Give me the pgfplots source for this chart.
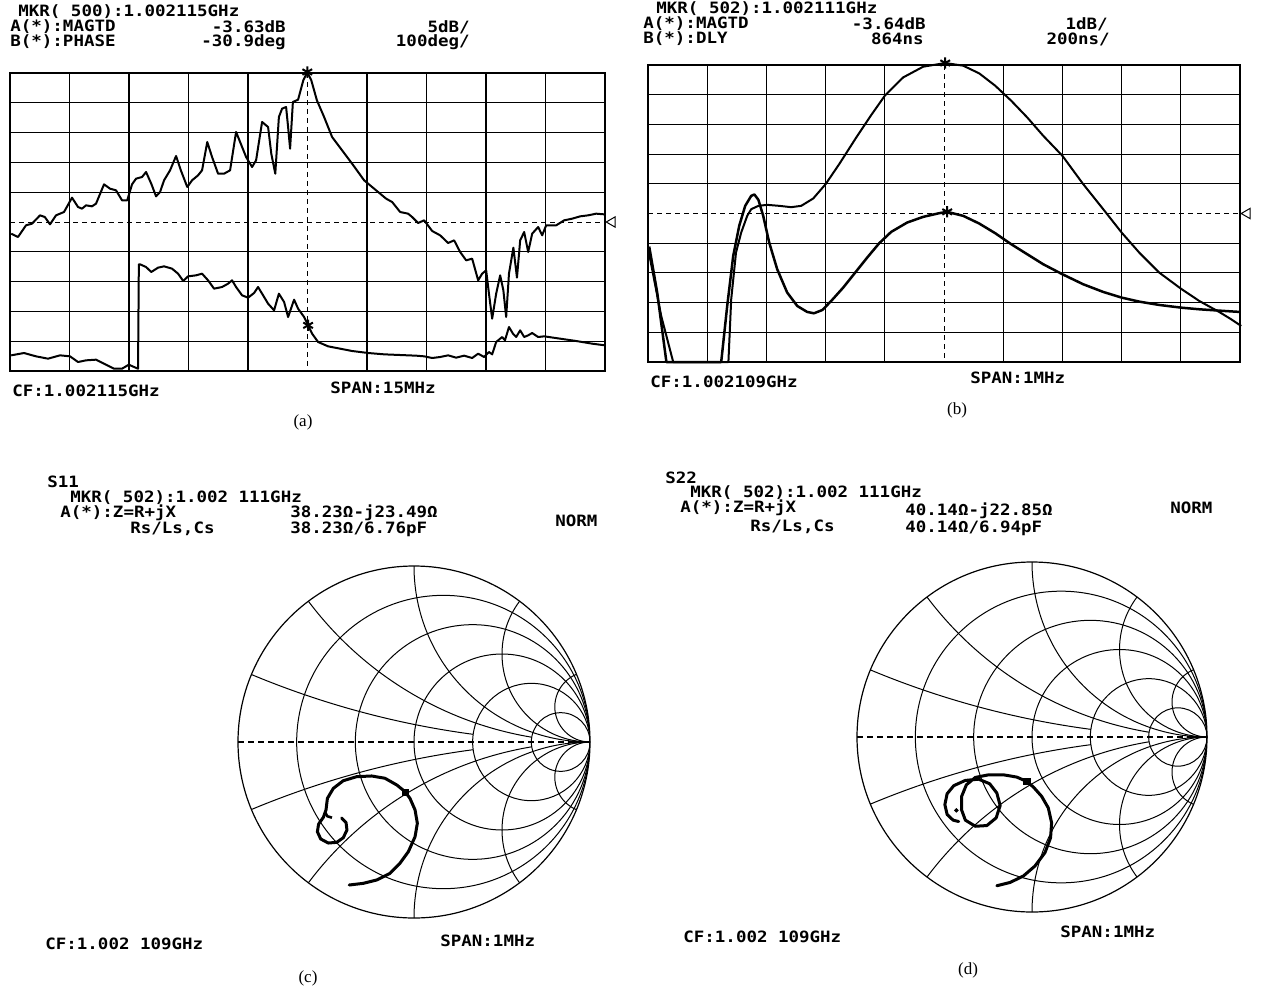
\documentclass[border=0pt]{standalone}
\usepackage{fontspec}
\setmainfont{DejaVu Sans}
\newfontfamily\plotfont{DejaVu Sans Mono}[FakeStretch=1.12]
\newfontfamily\capfont{Liberation Serif}
\usepackage{pgfplots}
\pgfplotsset{compat=1.18}

\pgfplotsset{
  vna/.style={scale only axis, anchor=south west,
    xticklabels={}, yticklabels={}, major tick length=0pt,
    grid=major, major grid style={black, line width=0.55pt},
    axis line style={black, line width=0.65pt},
    y dir=reverse, clip=false},
  smith/.style={scale only axis, anchor=south west, xmin=-1, xmax=1, ymin=-1, ymax=1,
    axis lines=none, clip=false},
  trace/.style={black, line width=1pt, mark=none, line join=round},
}
\tikzset{
  lab/.style={inner sep=0pt, font=\plotfont\bfseries\fontsize{7.8}{9}\selectfont},
  captxt/.style={inner sep=0pt, font=\capfont\fontsize{8.5}{10}\selectfont},
  sg/.style={black, line width=0.5pt},
  dsh/.style={black, line width=0.45pt, dash pattern=on 2.5pt off 2pt},
}

\newcommand{\smithgrid}{%
 \begin{scope}
  \clip (axis cs:0,0) circle[radius=1];
  \draw[sg] (axis cs:0.16667,0) circle[radius=0.83333];
  \draw[sg] (axis cs:0.33333,0) circle[radius=0.66667];
  \draw[sg] (axis cs:0.5,0) circle[radius=0.5];
  \draw[sg] (axis cs:0.66667,0) circle[radius=0.33333];
  \draw[sg] (axis cs:0.83333,0) circle[radius=0.16667];
  \draw[sg] (axis cs:1,1) circle[radius=1];
  \draw[sg] (axis cs:1,-1) circle[radius=1];
  \draw[sg] (axis cs:1,0.5) circle[radius=0.5];
  \draw[sg] (axis cs:1,-0.5) circle[radius=0.5];
  \draw[sg] (axis cs:1,0.2) circle[radius=0.2];
  \draw[sg] (axis cs:1,-0.2) circle[radius=0.2];
 \end{scope}
 \begin{scope}[even odd rule]
  \clip (axis cs:0,0) circle[radius=1] (axis cs:0.66667,0) circle[radius=0.33333];
  \draw[sg] (axis cs:1,5) circle[radius=5];
  \draw[sg] (axis cs:1,-5) circle[radius=5];
 \end{scope}
 \begin{scope}[even odd rule]
  \clip (axis cs:0,0) circle[radius=1] (axis cs:0.83333,0) circle[radius=0.16667];
  \draw[sg] (axis cs:1,2) circle[radius=2];
  \draw[sg] (axis cs:1,-2) circle[radius=2];
 \end{scope}
 \draw[black, line width=0.6pt] (axis cs:0,0) circle[radius=1];
 \draw[black, line width=0.6pt, dash pattern=on 3pt off 2pt] (axis cs:-1,0) -- (axis cs:1,0);
}

\begin{document}
\begin{tikzpicture}
\useasboundingbox (0pt,0pt) rectangle (631pt,496.5pt);

% ================= (a) =================
\begin{axis}[vna, at={(5pt,311pt)}, width=297.5pt, height=149pt,
  xmin=25, xmax=1512, ymin=38, ymax=932,
  xtick={25,173.7,322.4,471.1,619.8,917.2,1065.9,1214.6,1363.3,1512},
  ytick={38,127.4,216.8,306.2,395.6,574.4,663.8,753.2,842.6,932}]
\draw[dsh] (axis cs:768.5,38) -- (axis cs:768.5,932);
\draw[dsh] (axis cs:25,485) -- (axis cs:1512,485);
\addplot[trace] coordinates {(28,520)(45,530)(65,495)(80,490)(100,465)(112,470)(125,492)(140,465)(160,455)(180,412)(195,440)(205,445)(215,435)(230,438)(240,430)(260,372)(275,385)(290,390)(305,420)(318,420)(330,372)(340,355)(355,350)(365,335)(378,370)(390,408)(400,395)(410,360)(425,330)(440,287)(452,330)(468,380)(480,360)(495,345)(505,330)(518,245)(530,290)(545,340)(560,340)(575,330)(590,215)(605,260)(615,290)(630,320)(640,300)(655,185)(670,200)(678,280)(688,340)(697,170)(705,145)(715,140)(720,200)(725,265)(732,125)(745,118)(758,60)(768,35)(778,60)(792,120)(810,170)(830,230)(855,270)(880,310)(910,360)(940,390)(965,415)(980,425)(1000,455)(1020,460)(1030,470)(1045,488)(1060,480)(1080,512)(1100,525)(1120,548)(1135,540)(1150,575)(1165,600)(1180,595)(1195,660)(1205,640)(1215,630)(1222,700)(1230,775)(1240,700)(1250,645)(1258,690)(1265,770)(1272,640)(1283,562)(1292,652)(1300,540)(1310,515)(1320,575)(1330,520)(1345,500)(1355,525)(1365,495)(1390,495)(1410,480)(1430,475)(1450,468)(1470,465)(1490,460)(1510,462)};
\addplot[trace] coordinates {(28,885)(60,878)(90,888)(120,895)(150,885)(175,888)(195,905)(215,900)(240,898)(260,910)(285,925)(305,925)(322,913)(335,920)(345,925)(347,612)(350,612)(365,620)(378,635)(395,622)(410,618)(430,625)(445,640)(458,662)(470,648)(490,645)(505,640)(520,660)(535,685)(555,680)(570,670)(580,660)(590,680)(605,705)(620,712)(635,698)(645,680)(660,710)(670,730)(685,750)(697,700)(710,725)(720,770)(735,718)(745,745)(760,770)(768,790)(780,820)(795,845)(820,858)(850,865)(880,872)(920,878)(960,882)(1000,884)(1040,886)(1060,888)(1080,893)(1100,890)(1120,885)(1140,892)(1160,886)(1180,893)(1195,880)(1210,890)(1222,875)(1230,882)(1240,845)(1255,830)(1262,840)(1272,800)(1282,820)(1290,830)(1300,810)(1310,830)(1320,825)(1330,818)(1345,830)(1360,828)(1400,835)(1440,842)(1480,850)(1512,855)};
\addplot[only marks, mark=asterisk, mark size=2.8pt, mark options={line width=1pt}] coordinates {(768,35)(770,795)};
\addplot[only marks, mark=triangle, mark size=3pt, mark options={rotate=90, line width=0.5pt}] coordinates {(1530,485)};
\end{axis}

% ================= (b) =================
\begin{axis}[vna, at={(324pt,315.5pt)}, width=296pt, height=148.5pt,
  xmin=42, xmax=1522, ymin=78, ymax=968,
  xtick={42,190,338,486,634,930,1078,1226,1374,1522},
  ytick={78,167,256,345,434,612,701,790,879,968}]
\draw[dsh] (axis cs:782,78) -- (axis cs:782,968);
\draw[dsh] (axis cs:42,523) -- (axis cs:1522,523);
\addplot[trace, line width=1pt] coordinates {(45,645)(75,830)(105,968)(243,968)(250,780)(262,640)(275,580)(290,530)(300,510)(318,500)(340,497)(370,500)(400,504)(425,500)(455,478)(486,435)(520,375)(560,300)(600,228)(634,170)(680,115)(730,83)(785,72)(830,80)(870,103)(910,140)(950,185)(990,235)(1030,290)(1078,350)(1130,435)(1180,510)(1226,580)(1270,640)(1320,700)(1374,748)(1420,785)(1470,818)(1500,840)(1525,860)};
\addplot[trace, line width=1.25pt] coordinates {(45,622)(65,760)(88,968)(225,968)(240,800)(255,650)(270,560)(285,500)(300,470)(308,466)(318,482)(330,530)(345,610)(365,690)(390,760)(415,800)(440,818)(457,822)(478,812)(500,785)(530,745)(560,700)(590,655)(620,612)(650,578)(690,550)(730,533)(770,522)(790,518)(830,530)(870,553)(910,582)(950,615)(990,645)(1030,675)(1078,705)(1130,735)(1180,758)(1226,775)(1270,787)(1320,797)(1374,805)(1420,810)(1470,814)(1522,818)};
\addplot[only marks, mark=asterisk, mark size=2.8pt, mark options={line width=1pt}] coordinates {(785,72)(790,518)};
\addplot[only marks, mark=triangle, mark size=3pt, mark options={rotate=90, line width=0.5pt}] coordinates {(1540,523)};
\end{axis}

% ================= (c) =================
\begin{axis}[smith, at={(119pt,37.5pt)}, width=176pt, height=176pt]
\smithgrid
\addplot[trace, line width=1.5pt, line cap=round] coordinates {(-0.368,-0.8125)(-0.288,-0.803)(-0.212,-0.784)(-0.136,-0.746)(-0.080,-0.689)(-0.032,-0.623)(0.006,-0.538)(0.019,-0.462)(0.006,-0.386)(-0.023,-0.320)(-0.051,-0.282)(-0.098,-0.244)(-0.165,-0.206)(-0.241,-0.193)(-0.326,-0.197)(-0.402,-0.220)(-0.458,-0.263)(-0.492,-0.320)(-0.5,-0.386)(-0.515,-0.428)(-0.542,-0.466)(-0.549,-0.510)(-0.530,-0.551)(-0.487,-0.574)(-0.439,-0.570)(-0.402,-0.544)(-0.381,-0.5)(-0.386,-0.458)(-0.411,-0.432)};
\addplot[trace, line width=1.3pt] coordinates {(-0.505,-0.400)(-0.492,-0.422)(-0.466,-0.430)};
\addplot[only marks, mark=square*, mark size=1.6pt] coordinates {(-0.050,-0.287)};
\end{axis}

% ================= (d) =================
\begin{axis}[smith, at={(428.5pt,40.5pt)}, width=175pt, height=175pt]
\smithgrid
\addplot[trace, line width=1.5pt, line cap=round] coordinates {(-0.201,-0.850)(-0.125,-0.831)(-0.049,-0.794)(0.017,-0.737)(0.074,-0.661)(0.106,-0.576)(0.112,-0.490)(0.093,-0.405)(0.055,-0.339)(0.008,-0.286)(-0.030,-0.254)(-0.087,-0.229)(-0.163,-0.216)(-0.248,-0.216)(-0.324,-0.231)(-0.375,-0.273)(-0.402,-0.339)(-0.403,-0.415)(-0.381,-0.475)(-0.324,-0.510)(-0.258,-0.506)(-0.205,-0.462)(-0.182,-0.392)(-0.201,-0.320)(-0.242,-0.267)(-0.305,-0.241)(-0.381,-0.248)(-0.447,-0.278)(-0.485,-0.324)(-0.498,-0.386)(-0.485,-0.443)(-0.451,-0.475)(-0.419,-0.483)};
\addplot[only marks, mark=*, mark size=0.9pt] coordinates {(-0.432,-0.419)};
\addplot[only marks, mark=square*, mark size=1.6pt] coordinates {(-0.030,-0.254)};
\end{axis}

% ================= texts =================
% (a)
\node[lab, anchor=west] at (9pt,490.5pt) {MKR( 500):1.002115GHz};
\node[lab, anchor=west] at (5pt,483pt) {A(*):MAGTD};
\node[lab, anchor=east] at (143pt,483pt) {-3.63dB};
\node[lab, anchor=east] at (235pt,483pt) {5dB/};
\node[lab, anchor=west] at (5pt,475.5pt) {B(*):PHASE};
\node[lab, anchor=east] at (143pt,475.5pt) {-30.9deg};
\node[lab, anchor=east] at (235pt,475.5pt) {100deg/};
\node[lab, anchor=west] at (6pt,301pt) {CF:1.002115GHz};
\node[lab, anchor=west] at (165pt,302.5pt) {SPAN:15MHz};
\node[captxt] at (151.5pt,285.5pt) {(a)};
% (b)
\node[lab, anchor=west] at (328pt,492pt) {MKR( 502):1.002111GHz};
\node[lab, anchor=west] at (321.5pt,484.5pt) {A(*):MAGTD};
\node[lab, anchor=east] at (463pt,484.5pt) {-3.64dB};
\node[lab, anchor=east] at (554pt,484.5pt) {1dB/};
\node[lab, anchor=west] at (321.5pt,477pt) {B(*):DLY};
\node[lab, anchor=east] at (462pt,477pt) {864ns};
\node[lab, anchor=east] at (555pt,477pt) {200ns/};
\node[lab, anchor=west] at (325pt,305.5pt) {CF:1.002109GHz};
\node[lab, anchor=west] at (485pt,307.5pt) {SPAN:1MHz};
\node[captxt] at (478.5pt,291.5pt) {(b)};
% (c)
\node[lab, anchor=west] at (23.5pt,255.5pt) {S11};
\node[lab, anchor=west] at (35pt,247.5pt) {MKR( 502):1.002 111GHz};
\node[lab, anchor=west] at (30pt,240pt) {A(*):Z=R+jX};
\node[lab, anchor=west] at (145pt,240pt) {38.23Ω-j23.49Ω};
\node[lab, anchor=west] at (277.5pt,236pt) {NORM};
\node[lab, anchor=west] at (65pt,232pt) {Rs/Ls,Cs};
\node[lab, anchor=west] at (145pt,232pt) {38.23Ω/6.76pF};
\node[lab, anchor=west] at (22.5pt,24.5pt) {CF:1.002 109GHz};
\node[lab, anchor=west] at (220pt,26pt) {SPAN:1MHz};
\node[captxt] at (154pt,7.5pt) {(c)};
% (d)
\node[lab, anchor=west] at (332.5pt,257.5pt) {S22};
\node[lab, anchor=west] at (345pt,250pt) {MKR( 502):1.002 111GHz};
\node[lab, anchor=west] at (340pt,242.5pt) {A(*):Z=R+jX};
\node[lab, anchor=west] at (452.5pt,241pt) {40.14Ω-j22.85Ω};
\node[lab, anchor=west] at (585pt,242.5pt) {NORM};
\node[lab, anchor=west] at (375pt,233pt) {Rs/Ls,Cs};
\node[lab, anchor=west] at (452.5pt,232.5pt) {40.14Ω/6.94pF};
\node[lab, anchor=west] at (341.5pt,28pt) {CF:1.002 109GHz};
\node[lab, anchor=west] at (530pt,30.5pt) {SPAN:1MHz};
\node[captxt] at (484pt,11.5pt) {(d)};
\end{tikzpicture}
\end{document}
